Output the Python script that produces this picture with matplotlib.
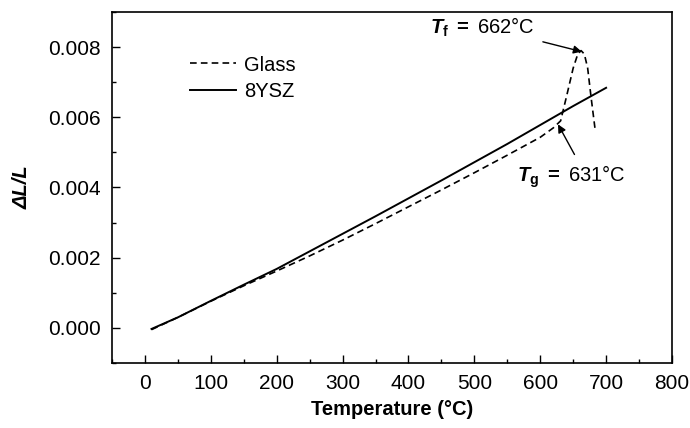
# plot.py
# thermal expansion of glass sealant vs 8YSZ

import matplotlib
matplotlib.use("Agg")
import matplotlib.pyplot as plt
from matplotlib.ticker import MultipleLocator

plt.rcParams["font.family"] = ["Liberation Sans", "DejaVu Sans"]
plt.rcParams["mathtext.fontset"] = "custom"
plt.rcParams["mathtext.rm"] = "Liberation Sans"
plt.rcParams["mathtext.it"] = "Liberation Sans:italic"
plt.rcParams["mathtext.bf"] = "Liberation Sans:bold"
plt.rcParams["mathtext.bfit"] = "Liberation Sans:bold:italic"

# 8YSZ dilatometer curve
temp_ysz = [10, 50, 100, 150, 200, 250, 300, 350, 400, 450, 500, 550, 600, 650, 700]
dl_ysz = [-0.00003, 0.0003, 0.00077, 0.00123, 0.00168, 0.00218, 0.00268, 0.00318,
          0.00369, 0.0042, 0.00472, 0.00524, 0.00578, 0.00632, 0.00684]

# glass dilatometer curve
temp_glass = [10, 50, 100, 150, 200, 250, 300, 350, 400, 450, 500, 550, 600, 620,
              631, 640, 650, 657, 662, 667, 672, 677, 683]
dl_glass = [-0.00005, 0.0003, 0.00076, 0.0012, 0.00162, 0.00205, 0.0025, 0.00297,
            0.00345, 0.00393, 0.00442, 0.00492, 0.00543, 0.0057, 0.0059, 0.0066,
            0.0074, 0.0078, 0.0079, 0.0078, 0.0074, 0.0066, 0.0057]

fig = plt.figure(figsize=(6.9, 4.28), dpi=100)
ax = fig.add_axes([0.1623, 0.1519, 0.8116, 0.8201])

ax.plot(temp_glass, dl_glass, color="black", linestyle=(0, (4, 2.5)), linewidth=1.2, label="Glass")
ax.plot(temp_ysz, dl_ysz, color="black", linestyle="-", linewidth=1.4, label="8YSZ")

ax.set_xlim(-50, 800)
ax.set_ylim(-0.001, 0.009)
ax.xaxis.set_major_locator(MultipleLocator(100))
ax.xaxis.set_minor_locator(MultipleLocator(50))
ax.yaxis.set_major_locator(MultipleLocator(0.002))
ax.yaxis.set_minor_locator(MultipleLocator(0.001))
ax.yaxis.set_major_formatter(plt.FormatStrFormatter("%.3f"))
ax.tick_params(which="both", direction="in", labelsize=15, width=1)
ax.tick_params(which="major", length=6, pad=8)
ax.tick_params(which="minor", length=3)
for s in ax.spines.values():
    s.set_linewidth(1.2)

ax.set_xlabel("Temperature (°C)", fontsize=14.5, fontweight="bold", labelpad=5)
ax.set_ylabel("ΔL/L", fontsize=14.5, fontweight="bold", fontstyle="italic", labelpad=12)

ax.legend(loc="upper left", bbox_to_anchor=(0.139, 0.876), frameon=False, fontsize=14.5,
          handlelength=2.3, handletextpad=0.4, labelspacing=0.35, borderaxespad=0, borderpad=0)

arrow = dict(arrowstyle="-|>", color="black", lw=1, mutation_scale=12, shrinkA=0, shrinkB=0)
ax.text(592, 0.00855, r"$\mathbfit{T}_{\mathbf{f}}$ $\mathbf{{=}}$ 662°C",
        ha="right", va="center", fontsize=14.5)
ax.annotate("", xy=(663, 0.00787), xytext=(604, 0.00815), arrowprops=arrow)
ax.text(729, 0.00432, r"$\mathbfit{T}_{\mathbf{g}}$ $\mathbf{{=}}$ 631°C",
        ha="right", va="center", fontsize=14.5)
ax.annotate("", xy=(627, 0.0058), xytext=(652, 0.00494), arrowprops=arrow)

fig.savefig("out.png", dpi=100)
